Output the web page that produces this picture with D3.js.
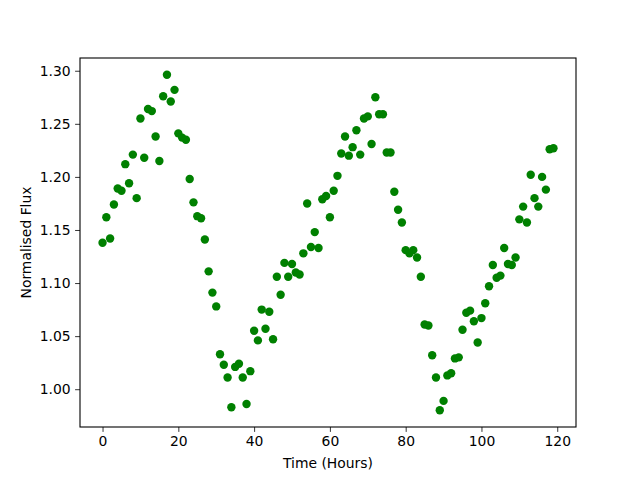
<!DOCTYPE html>
<html><head><meta charset="utf-8">
<script src="https://cdn.jsdelivr.net/npm/d3@7"></script>
<style>body{margin:0;background:#fff}svg{display:block}text{font-family:"DejaVu Sans",sans-serif}</style>
</head><body><svg id="c" width="640" height="480"></svg>
<script>
const hours = d3.range(0, 120);
const flux = [
1.138,1.162,1.142,1.174,1.189,1.187,1.212,1.194,1.221,1.180,
1.255,1.218,1.264,1.262,1.238,1.215,1.276,1.2962,1.271,1.282,
1.241,1.237,1.235,1.198,1.176,1.163,1.161,1.141,1.111,1.091,
1.078,1.033,1.023,1.011,0.983,1.021,1.024,1.011,0.986,1.017,
1.055,1.046,1.075,1.057,1.073,1.047,1.106,1.089,1.119,1.106,
1.118,1.110,1.108,1.128,1.175,1.134,1.148,1.133,1.179,1.182,
1.162,1.187,1.201,1.222,1.238,1.220,1.228,1.244,1.221,1.255,
1.257,1.231,1.275,1.259,1.259,1.223,1.223,1.186,1.169,1.157,
1.131,1.128,1.131,1.124,1.106,1.061,1.060,1.032,1.011,0.9802,
0.989,1.013,1.015,1.029,1.030,1.056,1.072,1.074,1.064,1.044,
1.067,1.081,1.097,1.117,1.105,1.107,1.133,1.118,1.117,1.124,
1.160,1.172,1.157,1.202,1.180,1.172,1.200,1.188,1.226,1.227
];
const xTicks = [0,20,40,60,80,100,120];
const yTicks = [1.00,1.05,1.10,1.15,1.20,1.25,1.30];
const xLabel = "Time (Hours)";
const yLabel = "Normalised Flux";

const L=80, R=576, T=58, B=427;
const svg = d3.select("#c");
const xmin=d3.min(hours), xmax=d3.max(hours), ymin=d3.min(flux), ymax=d3.max(flux);
const xp=(xmax-xmin)*0.05, yp=(ymax-ymin)*0.05;
const x = d3.scaleLinear().domain([xmin-xp, xmax+xp]).range([L,R]);
const y = d3.scaleLinear().domain([ymin-yp, ymax+yp]).range([B,T]);

const pts = svg.append("g");
pts.selectAll("circle").data(hours).join("circle")
  .attr("cx", d=>x(d)).attr("cy", (d,i)=>y(flux[i])).attr("r",4.2).attr("fill","#008000");

const xa = svg.append("g").attr("transform",`translate(0,${B})`)
  .call(d3.axisBottom(x).tickValues(xTicks).tickFormat(d3.format("d")).tickSize(4.9).tickPadding(4.5));
const ya = svg.append("g").attr("transform",`translate(${L},0)`)
  .call(d3.axisLeft(y).tickValues(yTicks).tickFormat(d3.format(".2f")).tickSize(4.9).tickPadding(4.5));
[xa,ya].forEach(a=>{
  a.select(".domain").remove();
  a.selectAll(".tick line").attr("stroke","#000").attr("stroke-width",0.8);
  a.selectAll("text").attr("font-size",13.9).attr("fill","#000").attr("font-family","DejaVu Sans");
});
svg.append("rect").attr("x",L).attr("y",T).attr("width",R-L).attr("height",B-T)
  .attr("fill","none").attr("stroke","#000").attr("stroke-width",1.1);

svg.append("text").attr("x",(L+R)/2).attr("y",468).attr("text-anchor","middle")
  .attr("font-size",13.9).text(xLabel);
svg.append("text").attr("transform",`translate(31,${(T+B)/2}) rotate(-90)`).attr("text-anchor","middle")
  .attr("font-size",13.9).text(yLabel);
</script></body></html>
